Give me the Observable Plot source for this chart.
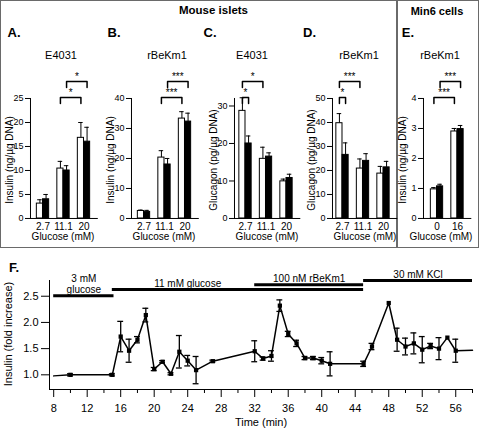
<!DOCTYPE html>
<html><head><meta charset="utf-8">
<script src="https://cdn.jsdelivr.net/npm/d3@7"></script>
<script src="https://cdn.jsdelivr.net/npm/@observablehq/plot@0.6"></script>
<style>
html,body{margin:0;padding:0;background:#fff;}
#fig{position:relative;width:479px;height:430px;overflow:hidden;background:#fff;font-family:"Liberation Sans",Arial,Helvetica,sans-serif;color:#000;}
.abs{position:absolute;white-space:nowrap;line-height:1;}
.c{transform:translate(-50%,-50%);}
.rot{transform:translate(-50%,-50%) rotate(-90deg);}
.box{position:absolute;box-sizing:border-box;border:1.5px solid #6a6a6a;}
svg{max-width:none !important;}
.top [aria-label^="y-axis"] text{font-size:9px;}
</style></head><body><div id="fig"></div>
<script>
// ---------- DATA ----------
const glucoseIslets = ["2.7", "11.1", "20"];
const glucoseMin6 = ["0", "16"];

// A: insulin, E4031
const aOpen = [3.1, 10.4, 16.8], aOpenErr = [0.8, 1.5, 3.2];
const aFilled = [4.0, 10.0, 16.0], aFilledErr = [1.0, 1.0, 3.0];
// B: insulin, rBeKm1
const bOpen = [2.5, 20.3, 33.3], bOpenErr = [0.3, 2.3, 2.3];
const bFilled = [2.2, 18.0, 32.3], bFilledErr = [0.5, 2.0, 2.8];
// C: glucagon, E4031
const cOpen = [28.7, 15.9, 9.9], cOpenErr = [3.5, 3.1, 0.6];
const cFilled = [20.0, 16.5, 10.8], cFilledErr = [2.0, 1.0, 1.0];
// D: glucagon, rBeKm1
const dOpen = [39.7, 20.8, 18.7], dOpenErr = [4.0, 4.0, 3.0];
const dFilled = [26.5, 24.0, 21.3], dFilledErr = [5.0, 3.0, 2.5];
// E: Min6 insulin, rBeKm1
const eOpen = [0.97, 2.90], eOpenErr = [0.06, 0.10];
const eFilled = [1.07, 2.98], eFilledErr = [0.07, 0.12];

// significance brackets: [group, series] -> [group, series]
const aBrackets = [{a: [1, "open"], b: [2, "open"], tier: 0, stars: "*"}, {a: [1, "filled"], b: [2, "filled"], tier: 1, stars: "*"}];
const bBrackets = [{a: [1, "open"], b: [2, "open"], tier: 0, stars: "***"}, {a: [1, "filled"], b: [2, "filled"], tier: 1, stars: "***"}];
const cBrackets = [{a: [0, "open"], b: [0, "filled"], tier: 0, stars: "*"}, {a: [0, "open"], b: [1, "open"], tier: 1, stars: "*"}];
const dBrackets = [{a: [0, "open"], b: [0, "filled"], tier: 0, stars: "*"}, {a: [0, "open"], b: [1, "open"], tier: 1, stars: "***"}];
const eBrackets = [{a: [0, "open"], b: [1, "open"], tier: 0, stars: "***"}, {a: [0, "filled"], b: [1, "filled"], tier: 1, stars: "***"}];

// F: time course
const fTime = [8, 10, 15, 16, 17, 18, 19, 20, 21, 22, 23, 24, 25, 27, 32, 33, 34, 35, 36, 37, 38, 39, 40, 41, 45, 46, 48, 49, 50, 51, 52, 53, 54, 55, 56, 58];
const fMean = [0.98, 1.00, 1.00, 1.73, 1.46, 1.67, 2.14, 1.11, 1.25, 1.02, 1.44, 1.27, 1.09, 1.26, 1.45, 1.31, 1.36, 2.32, 1.78, 1.60, 1.32, 1.32, 1.27, 1.21, 1.21, 1.54, 2.37, 1.67, 1.54, 1.60, 1.48, 1.55, 1.50, 1.71, 1.46, 1.47];
const fErr  = [0, 0.02, 0.02, 0.29, 0.22, 0.06, 0.13, 0.03, 0.02, 0.02, 0.31, 0.10, 0.26, 0.02, 0.20, 0.03, 0.10, 0.11, 0.05, 0.06, 0.03, 0.03, 0.06, 0.23, 0.05, 0.06, 0, 0.22, 0.16, 0.20, 0.25, 0.05, 0.21, 0, 0.22, 0];
const fMarker = fTime.map(t => t !== 8 && t !== 58);
const treatLabels = ["3 mM\nglucose", "11 mM glucose", "100 nM rBeKm1", "30 mM KCl"];
const treatStart = [8, 15, 32, 45];
const treatEnd = [15.2, 45, 45, 58];
const fTicks = d3.range(8, 57, 4);
const fMinorTicks = d3.range(10, 59, 4);

// ---------- LAYOUT ----------
const fig = document.getElementById("fig");
const STYLE = "background:transparent;overflow:visible;font-family:'Liberation Sans',Arial,Helvetica,sans-serif;font-size:10px;color:#000;";
function place(el, left, top, w, cls = "") {
  const d = document.createElement("div");
  d.className = cls;
  d.style.cssText = `position:absolute;left:${left}px;top:${top}px;width:${w}px;`;
  d.appendChild(el); fig.appendChild(d);
}
function label(text, x, y, css, cls = "c") {
  const d = document.createElement("div");
  d.className = "abs " + cls;
  d.style.cssText += `left:${x}px;top:${y}px;${css}`;
  d.textContent = text; fig.appendChild(d);
}

// boxes
const b1 = document.createElement("div"); b1.className = "box"; b1.style.cssText += "left:0;top:0;width:397px;height:248px;"; fig.appendChild(b1);
const b2 = document.createElement("div"); b2.className = "box"; b2.style.cssText += "left:397px;top:0;width:82px;height:248px;"; fig.appendChild(b2);

const SP = 20.5, BW = 0.3, H = 247, MT = 98, MB = 29, ML = 40, MR = 4;
function barPanel(p) {
  const n = p.cats.length;
  const x0 = -p.off / SP, x1 = n - 1 + 0.65;
  const innerW = (x1 - x0) * SP;
  const rows = [];
  p.cats.forEach((c, i) => {
    rows.push({g: i, kind: "open", v: p.open[i], e: p.openErr[i]});
    rows.push({g: i, kind: "filled", v: p.filled[i], e: p.filledErr[i]});
  });
  const lx = (g, kind) => kind === "open" ? g - BW : g;
  const cx = (g, kind) => lx(g, kind) + BW / 2;
  const vpp = p.yMax / (H - MT - MB);
  const pts = [], brs = [];
  p.brackets.forEach((b, k) => {
    const xa = cx(...b.a), xb = cx(...b.b);
    const L = (121 + 16 * b.tier) * vpp, Lb = L - 6 * vpp;
    pts.push({id: k, x: xa, y: Lb}, {id: k, x: xa, y: L}, {id: k, x: xb, y: L}, {id: k, x: xb, y: Lb});
    brs.push({x: (xa + xb) / 2, y: L, s: b.stars});
  });
  const chart = Plot.plot({
    width: ML + innerW + MR, height: H,
    marginLeft: ML, marginRight: MR, marginTop: MT, marginBottom: MB,
    style: STYLE,
    x: {domain: [x0, x1], ticks: d3.range(n), tickFormat: i => p.cats[i], tickSize: 0, tickPadding: 4, line: true, label: null},
    y: {domain: [0, p.yMax], ticks: p.yTicks, tickFormat: d => String(d), tickSize: 5, tickPadding: 2, line: true, label: null},
    marks: [
      Plot.rect(rows.filter(d => d.kind === "open"), {x1: d => lx(d.g, d.kind), x2: d => lx(d.g, d.kind) + BW, y1: d => 0, y2: "v", fill: "white", stroke: "black", strokeWidth: 1}),
      Plot.rect(rows.filter(d => d.kind === "filled"), {x1: d => lx(d.g, d.kind), x2: d => lx(d.g, d.kind) + BW, y1: d => 0, y2: "v", fill: "black", stroke: "black", strokeWidth: 1}),
      Plot.ruleX(rows, {x: d => cx(d.g, d.kind), y1: "v", y2: d => d.v + d.e, stroke: "black", strokeWidth: 1}),
      Plot.ruleY(rows, {y: d => d.v + d.e, x1: d => cx(d.g, d.kind) - 0.11, x2: d => cx(d.g, d.kind) + 0.11, stroke: "black", strokeWidth: 1}),
      Plot.line(pts, {x: "x", y: "y", z: "id", stroke: "black", strokeWidth: 1.5}),
      Plot.text(brs, {x: "x", y: "y", text: d => d.s, lineAnchor: "bottom", dy: -1.5, fontSize: 10, fill: "black"})
    ]
  });
  place(chart, p.axisX - ML, 0, ML + innerW + MR, "top");
  label(p.title, p.titleX, 55, "font-size:11px;");
  label(p.letter, p.letterX, 32, "font-size:13px;font-weight:bold;");
  label(p.ylabel, p.axisX - 20.5, 160, "font-size:10px;", "rot");
  label("Glucose (mM)", p.xlabelX ?? p.axisX + 33, 237, "font-size:10px;");
}

barPanel({cats: glucoseIslets, open: aOpen, openErr: aOpenErr, filled: aFilled, filledErr: aFilledErr, yMax: 25, yTicks: [0, 5, 10, 15, 20, 25], brackets: aBrackets, axisX: 30, off: 12.5, title: "E4031", titleX: 61, letter: "A.", letterX: 14, ylabel: "Insulin (ng/µg DNA)"});
barPanel({cats: glucoseIslets, open: bOpen, openErr: bOpenErr, filled: bFilled, filledErr: bFilledErr, yMax: 40, yTicks: [0, 10, 20, 30, 40], brackets: bBrackets, axisX: 131, off: 12.5, title: "rBeKm1", titleX: 167, letter: "B.", letterX: 114, ylabel: "Insulin (ng/µg DNA)"});
barPanel({cats: glucoseIslets, open: cOpen, openErr: cOpenErr, filled: cFilled, filledErr: cFilledErr, yMax: 32, yTicks: [0, 10, 20, 30], brackets: cBrackets, axisX: 234, off: 11, title: "E4031", titleX: 252, letter: "C.", letterX: 210, ylabel: "Glucagon (pg/µg DNA)"});
barPanel({cats: glucoseIslets, open: dOpen, openErr: dOpenErr, filled: dFilled, filledErr: dFilledErr, yMax: 50, yTicks: [0, 10, 20, 30, 40, 50], brackets: dBrackets, axisX: 332, off: 10, title: "rBeKm1", titleX: 359, letter: "D.", letterX: 309.5, ylabel: "Glucagon (pg/µg DNA)"});
barPanel({cats: glucoseMin6, open: eOpen, openErr: eOpenErr, filled: eFilled, filledErr: eFilledErr, yMax: 4, yTicks: [0, 1, 2, 3, 4], brackets: eBrackets, axisX: 423, off: 13.5, title: "rBeKm1", titleX: 440, letter: "E.", letterX: 408, ylabel: "Insulin (ng/µg DNA)", xlabelX: 441});

label("Mouse islets", 213.5, 11, "font-size:11.5px;font-weight:bold;");
label("Min6 cells", 437, 11, "font-size:11px;font-weight:bold;");

// ---------- PANEL F ----------
const fRows = fTime.map((t, i) => ({t, v: fMean[i], e: fErr[i], m: fMarker[i]}));
const fErrRows = fRows.filter(d => d.e > 0);
const treatLevel = [2.51, 2.63, 2.72, 2.80];           // bar heights (layout)
const treatLabelAt = [null, 24, null, null];            // label x override (layout)
const treats = treatLabels.map((l, i) => ({label: l, s: treatStart[i], e: treatEnd[i], lev: treatLevel[i], lx: treatLabelAt[i] ?? (treatStart[i] + treatEnd[i]) / 2}));
const FH = 180, FMT = 30, FMB = 41;
const fChart = Plot.plot({
  width: 479, height: FH, marginTop: FMT, marginBottom: FMB, marginLeft: 49, marginRight: 7,
  style: STYLE + "font-size:11px;",
  x: {domain: [7.5, 58], ticks: fTicks, tickSize: 8, tickPadding: 7, line: true, label: null},
  y: {domain: [0.72, 2.8], ticks: [1, 1.5, 2, 2.5], tickFormat: d3.format(".1f"), tickSize: 8, tickPadding: 3, line: true, label: null},
  marks: [
    Plot.ruleX(fMinorTicks, {x: d => d, insetTop: FH - FMT - FMB, insetBottom: -4, stroke: "black"}),
    Plot.ruleY(treats, {y: "lev", x1: "s", x2: "e", stroke: "black", strokeWidth: 3}),
    Plot.text(treats, {x: "lx", y: "lev", text: d => d.label, lineAnchor: "bottom", dy: -2.5, fontSize: 10, lineHeight: 1.15, fill: "black"}),
    Plot.line(fRows, {x: "t", y: "v", stroke: "black", strokeWidth: 1.5}),
    Plot.ruleX(fErrRows, {x: "t", y1: d => d.v - d.e, y2: d => d.v + d.e, stroke: "black", strokeWidth: 1.3}),
    Plot.ruleY(fErrRows, {y: d => d.v + d.e, x1: d => d.t - 0.35, x2: d => d.t + 0.35, stroke: "black", strokeWidth: 1.3}),
    Plot.ruleY(fErrRows, {y: d => d.v - d.e, x1: d => d.t - 0.35, x2: d => d.t + 0.35, stroke: "black", strokeWidth: 1.3}),
    Plot.dot(fRows.filter(d => d.m), {x: "t", y: "v", symbol: "square", r: 2.4, fill: "black", stroke: "none"})
  ]
});
place(fChart, 0, 250, 479);
label("F.", 14, 267, "font-size:13px;font-weight:bold;");
label("Insulin (fold increase)", 8, 334, "font-size:11px;", "rot");
label("Time (min)", 261, 422, "font-size:11px;");
</script></body></html>
